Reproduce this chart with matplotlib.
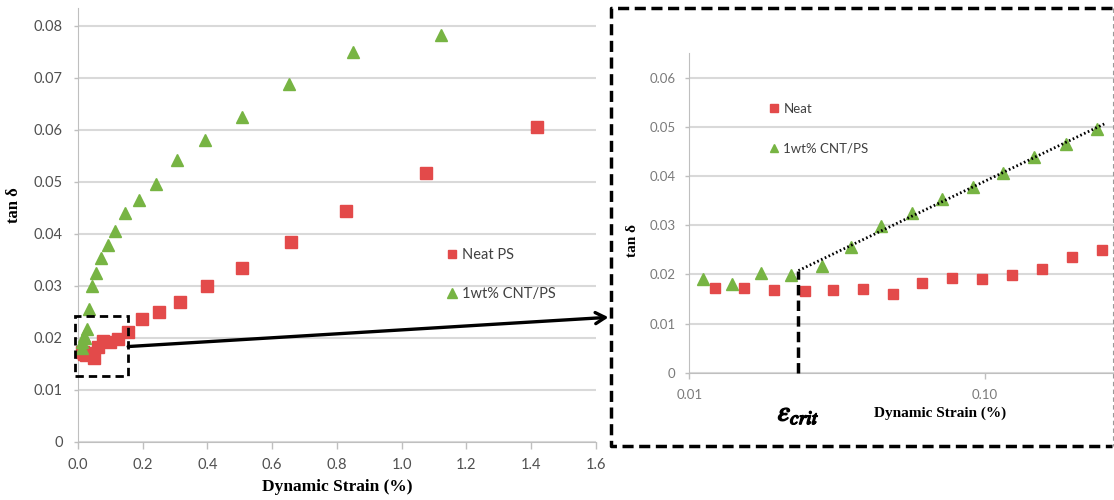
import numpy as np
import matplotlib
matplotlib.use('Agg')
import matplotlib.pyplot as plt
import matplotlib.patheffects as pe
from matplotlib.lines import Line2D
from matplotlib.patches import Rectangle

# tan delta vs dynamic strain (%)
neat_x = [0.0122, 0.0153, 0.0193, 0.0246, 0.0307, 0.0388, 0.0487, 0.0612, 0.0773, 0.0977,
          0.1234, 0.1559, 0.1969, 0.2493, 0.315, 0.400, 0.508, 0.658, 0.829, 1.074, 1.42]
neat_y = [0.0172, 0.0173, 0.0169, 0.0166, 0.0168, 0.0170, 0.0161, 0.0183, 0.0193, 0.0191,
          0.0198, 0.0211, 0.0236, 0.0250, 0.0268, 0.0300, 0.0335, 0.0384, 0.0443, 0.0516, 0.0606]
cnt_x = [0.0111, 0.0139, 0.0175, 0.0220, 0.0280, 0.0351, 0.0446, 0.0565, 0.0716, 0.0913,
         0.1153, 0.1468, 0.1875, 0.2398, 0.306, 0.394, 0.508, 0.653, 0.851, 1.122]
cnt_y = [0.0191, 0.0181, 0.0203, 0.0199, 0.0217, 0.0256, 0.0299, 0.0325, 0.0353, 0.0378,
         0.0406, 0.0439, 0.0464, 0.0496, 0.0542, 0.0581, 0.0625, 0.0688, 0.0749, 0.0783]

eps_crit = 0.0234
trend_end = 0.253
zoom_x = (-0.01, 0.155)
zoom_y = (0.0127, 0.0242)

red = '#E34A4A'
green = '#77B443'
grid_c = '#D9D9D9'
axis_c = '#BFBFBF'
tick_font = 'Lato'
label_font = 'Liberation Serif'

fig = plt.figure(figsize=(11.14, 5.0), dpi=100)

# ---- left panel: linear strain
ax1 = fig.add_axes([78/1114, (500-441.7)/500, 517.7/1114, 434.2/500])
ax1.plot(neat_x, neat_y, 's', color=red, ms=8.5, mec=red, label='Neat PS', zorder=5, clip_on=False)
ax1.plot(cnt_x, cnt_y, '^', color=green, ms=9, mec=green, label='1wt% CNT/PS', zorder=5, clip_on=False)
ax1.set_xlim(0, 1.6)
ax1.set_ylim(0, 0.0835)
ax1.set_xticks(np.arange(0, 1.61, 0.2))
ax1.set_xticklabels(['%.1f' % v for v in np.arange(0, 1.61, 0.2)])
ax1.set_yticks(np.arange(0, 0.081, 0.01))
ax1.set_yticklabels(['0'] + ['%.2f' % v for v in np.arange(0.01, 0.081, 0.01)])
ax1.tick_params(axis='x', length=5, width=1, color=axis_c, pad=7, labelsize=10.5, labelcolor='#505050')
ax1.tick_params(axis='y', length=3, width=1, color=axis_c, pad=8, labelsize=10.5, labelcolor='#505050')
for t in ax1.get_xticklabels() + ax1.get_yticklabels():
    t.set_fontfamily(tick_font)
ax1.grid(axis='y', color=grid_c, lw=1.5)
ax1.set_axisbelow(True)
ax1.spines['top'].set_visible(False)
ax1.spines['right'].set_visible(False)
ax1.spines['left'].set_color(axis_c)
ax1.spines['bottom'].set_color(axis_c)
ax1.set_xlabel('Dynamic Strain (%)', family=label_font, weight='bold', fontsize=12.5, va='center')
ax1.xaxis.set_label_coords(0.5, -0.104)
ax1.set_ylabel('tan δ', family=label_font, weight='bold', fontsize=12, va='center')
ax1.yaxis.set_label_coords(-0.124, 0.545)
leg1 = ax1.legend(loc='upper left', bbox_to_anchor=(0.70, 0.46), frameon=False,
                  handlelength=0.8, handletextpad=0.3, labelspacing=1.75, borderaxespad=0,
                  prop={'family': tick_font, 'size': 10.5}, markerscale=0.75)
for t in leg1.get_texts():
    t.set_color('#404040')

ax1.add_patch(Rectangle((zoom_x[0], zoom_y[0]), zoom_x[1]-zoom_x[0], zoom_y[1]-zoom_y[0],
                        fill=False, ec='k', lw=2, ls=(0, (3, 1.8)), zorder=8, clip_on=False))

# ---- right panel: log strain (zoom)
ax2 = fig.add_axes([689.3/1114, (500-372.7)/500, (1114-689.3)/1114, 319.7/500])
ax2.set_xscale('log')
ax2.plot(neat_x, neat_y, 's', color=red, ms=7.7, mec=red, label='Neat', zorder=5)
ax2.plot(cnt_x, cnt_y, '^', color=green, ms=8, mec=green, label='1wt% CNT/PS', zorder=5)
ax2.set_xlim(0.01, 0.273)
ax2.set_ylim(0, 0.065)
ax2.set_xticks([0.01, 0.1])
ax2.set_xticklabels(['0.01', '0.10'])
ax2.xaxis.set_minor_locator(matplotlib.ticker.NullLocator())
ax2.set_yticks(np.arange(0, 0.061, 0.01))
ax2.set_yticklabels(['0'] + ['%.2f' % v for v in np.arange(0.01, 0.061, 0.01)])
ax2.tick_params(axis='x', length=4, width=1, color=axis_c, pad=8, labelsize=9.5, labelcolor='#7A7A7A')
ax2.tick_params(axis='y', length=3, width=1, color=axis_c, pad=7, labelsize=9.5, labelcolor='#7A7A7A')
for t in ax2.get_xticklabels() + ax2.get_yticklabels():
    t.set_fontfamily(tick_font)
ax2.grid(axis='y', color=grid_c, lw=1.5)
ax2.set_axisbelow(True)
ax2.spines['top'].set_visible(False)
ax2.spines['right'].set_visible(False)
ax2.spines['left'].set_color(axis_c)
ax2.spines['bottom'].set_color(axis_c)
ax2.set_xlabel('Dynamic Strain (%)', family=label_font, weight='bold', fontsize=11, va='center')
ax2.xaxis.set_label_coords(0.59, -0.127)
ax2.set_ylabel('tan δ', family=label_font, weight='bold', fontsize=11, va='center')
ax2.yaxis.set_label_coords(-0.1326, 0.415)
leg2 = ax2.legend(loc='upper left', bbox_to_anchor=(0.175, 0.86), frameon=False,
                  handlelength=0.8, handletextpad=0.3, labelspacing=2.1, borderaxespad=0,
                  prop={'family': tick_font, 'size': 9.5}, markerscale=0.75)
for t in leg2.get_texts():
    t.set_color('#404040')

# log-linear trend line of the CNT data above the critical strain
cx = np.array(cnt_x)
cy = np.array(cnt_y)
sel = (cx > eps_crit) & (cx < trend_end)
slope, icpt = np.polyfit(np.log10(cx[sel]), cy[sel], 1)
tx = np.array([eps_crit, trend_end])
ty = slope * np.log10(tx) + icpt
ax2.plot(tx, ty, color='k', lw=2, ls=(0, (0.6, 0.9)), zorder=6)
ax2.plot([eps_crit, eps_crit], [0, ty[0]], color='k', lw=2.5, ls=(0, (3, 1.5)), zorder=6, clip_on=False)
ax2.text(eps_crit, -0.125, r'$\varepsilon_{crit}$', transform=ax2.get_xaxis_transform(),
         ha='center', va='center', fontsize=20, math_fontfamily='stix',
         path_effects=[pe.withStroke(linewidth=1.1, foreground='k')])

# dashed frame around the zoom panel (figure pixels -> fractions)
W, H = 1114.0, 500.0
fx = [1112/W, 611/W, 611/W, 1112/W]
fy = [1-8.3/H, 1-8.3/H, 1-446/H, 1-446/H]
fig.add_artist(Line2D(fx, fy, color='k', lw=2.5, ls=(0, (3.2, 1.6))))
fig.add_artist(Line2D([1112.5/W, 1112.5/W], [1-8.3/H, 1-446/H], color='#9a9a9a', lw=0.8, ls=(0, (4, 3))))

# arrow from the small box to the zoom frame
ax1.annotate('', xy=(608.5/W, 1-317.3/H), xycoords='figure fraction',
             xytext=(zoom_x[1], 0.0183), textcoords='data',
             arrowprops=dict(arrowstyle='->,head_length=0.7,head_width=0.4', color='k', lw=2.4,
                             shrinkA=0, shrinkB=0))

fig.savefig('out.png', dpi=100)
